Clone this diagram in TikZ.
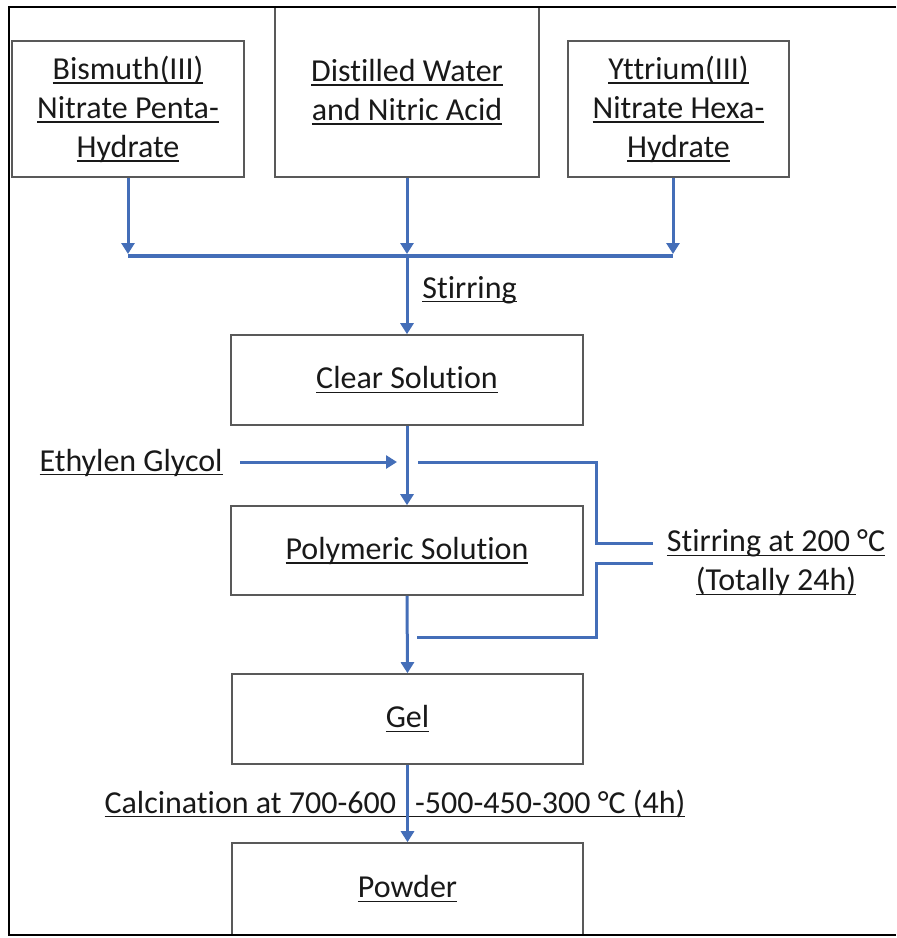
\documentclass[tikz,border=0pt]{standalone}
\usepackage{fontspec}
\setmainfont{Carlito}[Ligatures=NoCommon]
\usetikzlibrary{arrows.meta}
\definecolor{flowblue}{RGB}{68,110,184}
\def\ul#1{\setbox0\hbox{#1}\rlap{\rule[-0.14em]{\wd0}{0.055em}}\box0}
\tikzset{
	box/.style={draw=black!65, line width=0.8pt, align=center, text=black!90, font=\fontsize{16}{19.5}\selectfont},
	lbl/.style={inner sep=0pt, align=center, text=black!90, font=\fontsize{16}{19.5}\selectfont},
	flow/.style={draw=flowblue, line width=1.5pt, -{Triangle[length=5.5pt,width=6.5pt]}},
	bar/.style={draw=flowblue, line width=1.5pt},
}

\begin{document}
\begin{tikzpicture}[x=0.5pt,y=-0.5pt]
			%%%%% START %%%%%
			\useasboundingbox (0,0) rectangle (896,938);
			
			\node[box, minimum width=116pt, minimum height=68pt] (bis) at (128,109) {\ul{Bismuth(III)}\\\ul{Nitrate Penta-}\\\ul{Hydrate}};
			\node[box, minimum width=132pt, minimum height=85pt] (dw) at (407,92) {\ul{Distilled Water}\\\ul{and Nitric Acid}};
			\node[box, minimum width=110.5pt, minimum height=68pt] (ytt) at (678.5,109) {\ul{Yttrium(III)}\\\ul{Nitrate Hexa-}\\\ul{Hydrate}};
			
			\coordinate (jL) at (128,256);
			\coordinate (jM) at (407,256);
			\coordinate (jR) at (673,256);
			\draw[flow, shorten >=1pt] (bis.south) -- (jL);
			\draw[flow, shorten >=1pt] (dw.south) -- (jM);
			\draw[flow, shorten >=1pt] (ytt.south -| jR) -- (jR);
			\draw[bar, line width=2pt] (jL) -- (jR);
			
			\node[box, minimum width=176pt, minimum height=45pt] (clear) at (407,380) {\ul{Clear Solution}};
			\draw[flow] (jM) -- (clear.north);
			\node[lbl, anchor=base west] (stir) at (422,298) {\ul{Stirring}};
			
			\node[box, minimum width=176pt, minimum height=44.5pt] (poly) at (407,550.5) {\ul{Polymeric Solution}};
			\draw[flow] (clear.south) -- (poly.north);
			
			\coordinate (egEnd) at (397,462);
			\node[lbl, anchor=base east] (eg) at (223,471) {\ul{Ethylen Glycol}};
			\draw[flow] (eg.east |- egEnd) ++(8.5pt,0) -- (egEnd);
			
			\node[lbl] (stirhot) at (776,563) {\ul{Stirring at 200 °C}\\\ul{(Totally 24h)}};
			\coordinate (brA) at (418,462);
			\coordinate (brB) at (417,637);
			\coordinate (sA) at (653,543);
			\coordinate (sB) at (653,563);
			\draw[bar] (brA) -- (596,462) -- (596,543) -- (sA);
			\draw[bar] (sB) -- (596,563) -- (596,637) -- (brB);
			
			\node[box, minimum width=175.5pt, minimum height=45pt] (gel) at (407.5,719) {\ul{Gel}};
			\draw[flow] (poly.south) -- (gel.north);
			
			\node[lbl, anchor=base] (calc) at (395,813) {\ul{Calcination at 700-600\hspace{0.6em}-500-450-300 °C (4h)}};
			
			\node[box, minimum width=175.5pt, minimum height=46pt] (powder) at (407.5,889) {\ul{Powder}};
			\draw[flow] (gel.south) -- (powder.north);
			
			% outer frame, open on the right
			\draw[line width=1pt] (896,7) -- (9,7) -- (9,935) -- (896,935);
			
			%%%%% END %%%%%
\end{tikzpicture}
\end{document}
